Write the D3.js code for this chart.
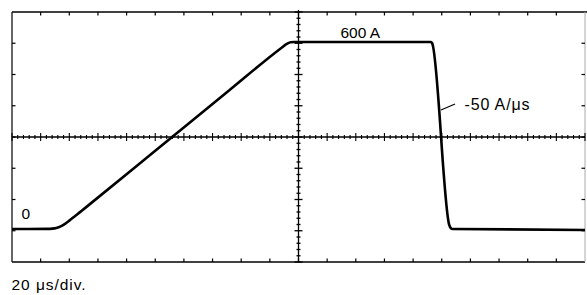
<!DOCTYPE html>
<html>
<head>
<meta charset="utf-8">
<script src="https://cdn.jsdelivr.net/npm/d3@7"></script>
<style>
html,body{margin:0;padding:0;background:#fff;}
svg{display:block;}
text{font-family:"Liberation Sans",Arial,Helvetica,sans-serif;fill:#000;}
</style>
</head>
<body>
<svg id="chart" width="587" height="295"></svg>
<script>
// Time (µs) and current (A)
const timeUs = [0, 25, 28, 31, 34, 37, 40, 43, 47, 52, 100, 150, 188, 191.5, 194.5, 197, 292.5, 293.3, 305.3, 306.3, 307.5, 400];
const currentA = [0, 0.4, 1.2, 3.5, 8.6, 16.7, 26.8, 37.7, 52.5, 71, 251, 439, 581, 593, 599, 600, 600, 596, 12, 3, 0, -3];

const divisionsX = 20;   // 20 µs/div
const divisionsY = 8;    // 100 A/div
const usPerDiv = 20;
const labels = {peak: "600 A", slope: "-50 A/μs", zero: "0", timebase: "20 μs/div."};

const svg = d3.select("#chart");
const L = 12, R = 585, T = 12, B = 262;

const x = d3.scaleLinear().domain([0, divisionsX * usPerDiv]).range([L, R]);
const y = d3.scaleLinear().domain([-105.9, 696.3]).range([B, T]);
const gx = d3.scaleLinear().domain([0, divisionsX]).range([L, R]);
const gy = d3.scaleLinear().domain([0, divisionsY]).range([T, B]);

const g = svg.append("g");

// frame
g.append("line").attr("x1", L).attr("x2", 587).attr("y1", T).attr("y2", T).attr("stroke", "#000").attr("stroke-width", 1.6);
g.append("line").attr("x1", L).attr("x2", R).attr("y1", B).attr("y2", B).attr("stroke", "#000").attr("stroke-width", 1.6);
g.append("line").attr("x1", L).attr("x2", L).attr("y1", T).attr("y2", B).attr("stroke", "#000").attr("stroke-width", 1.2);
g.append("line").attr("x1", R).attr("x2", R).attr("y1", T).attr("y2", B).attr("stroke", "#aaa").attr("stroke-width", 1);

const xMaj = d3.range(1, divisionsX);
const yMaj = d3.range(1, divisionsY);
// border ticks
g.selectAll(".tt").data(xMaj).join("line").attr("x1", d => gx(d)).attr("x2", d => gx(d)).attr("y1", T).attr("y2", T + 3.5).attr("stroke", "#000").attr("stroke-width", 1.2);
g.selectAll(".bt").data(xMaj).join("line").attr("x1", d => gx(d)).attr("x2", d => gx(d)).attr("y1", B).attr("y2", B - 3.5).attr("stroke", "#000").attr("stroke-width", 1.2);
g.selectAll(".lt").data(yMaj).join("line").attr("x1", L).attr("x2", L + 3.5).attr("y1", d => gy(d)).attr("y2", d => gy(d)).attr("stroke", "#000").attr("stroke-width", 1.2);
g.selectAll(".rt").data(yMaj).join("line").attr("x1", R).attr("x2", R - 3.5).attr("y1", d => gy(d)).attr("y2", d => gy(d)).attr("stroke", "#000").attr("stroke-width", 1.2);

// center crosshair
const cx = gx(divisionsX / 2), cy = gy(divisionsY / 2);
g.append("line").attr("x1", L).attr("x2", R).attr("y1", cy).attr("y2", cy).attr("stroke", "#000").attr("stroke-width", 1.3);
g.append("line").attr("x1", cx).attr("x2", cx).attr("y1", T - 2).attr("y2", B).attr("stroke", "#000").attr("stroke-width", 1.3);
const xMinor = d3.range(0, divisionsX * 5 + 1).map(i => i / 5);
const yMinor = d3.range(0, divisionsY * 5 + 1).map(i => i / 5);
g.selectAll(".hx").data(xMinor).join("line")
  .attr("x1", d => gx(d)).attr("x2", d => gx(d))
  .attr("y1", d => cy - (Math.abs(d - Math.round(d)) < 1e-6 ? 4 : 2))
  .attr("y2", d => cy + (Math.abs(d - Math.round(d)) < 1e-6 ? 4 : 2))
  .attr("stroke", "#000").attr("stroke-width", 1.1);
g.selectAll(".vy").data(yMinor).join("line")
  .attr("y1", d => gy(d)).attr("y2", d => gy(d))
  .attr("x1", d => cx - (Math.abs(d - Math.round(d)) < 1e-6 ? 4 : 2))
  .attr("x2", d => cx + (Math.abs(d - Math.round(d)) < 1e-6 ? 4 : 2))
  .attr("stroke", "#000").attr("stroke-width", 1.3);

// trace
const pts = timeUs.map((t, i) => [t, currentA[i]]);
const line = d3.line().x(d => x(d[0])).y(d => y(d[1])).curve(d3.curveMonotoneX);
g.append("path").attr("d", line(pts)).attr("fill", "none").attr("stroke", "#000").attr("stroke-width", 2.6).attr("stroke-linejoin", "round");

// annotations
g.append("text").attr("x", 340.5).attr("y", 38.3).attr("font-size", 15.5).text(labels.peak);
g.append("text").attr("x", 464.5).attr("y", 110).attr("font-size", 16).attr("textLength", 65).attr("lengthAdjust", "spacing").text(labels.slope);
g.append("line").attr("x1", 441).attr("y1", 110).attr("x2", 455).attr("y2", 104).attr("stroke", "#000").attr("stroke-width", 1.2);
g.append("text").attr("x", 21.5).attr("y", 218.5).attr("font-size", 15.5).text(labels.zero);
g.append("text").attr("x", 11.5).attr("y", 290).attr("font-size", 15.5).attr("textLength", 74).attr("lengthAdjust", "spacing").text(labels.timebase);
</script>
</body>
</html>
